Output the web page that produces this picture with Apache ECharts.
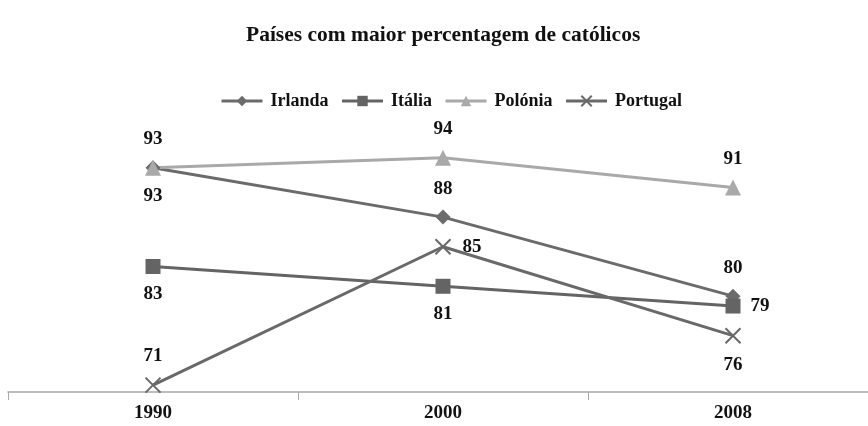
<!DOCTYPE html>
<html>
<head>
<meta charset="utf-8">
<script src="https://cdn.jsdelivr.net/npm/echarts@6/dist/echarts.min.js"></script>
<style>
  html, body { margin: 0; padding: 0; background: #fff; }
  #chart { width: 868px; height: 426px; }
</style>
</head>
<body>
<div id="chart"></div>
<script>
const years = ["1990", "2000", "2008"];
const irlanda = [93, 88, 80];
const italia = [83, 81, 79];
const polonia = [93, 94, 91];
const portugal = [71, 85, 76];

const FONT = "Liberation Serif";

// attach label position per point
function withLabels(values, positions, distances) {
  return values.map((v, i) => ({
    value: v,
    label: { position: positions[i], distance: distances[i] },
  }));
}

function lineSeries(name, data, color, symbol, size) {
  return {
    name: name,
    type: "line",
    data: data,
    symbol: symbol,
    symbolSize: size,
    showAllSymbol: true,
    lineStyle: { color: color, width: 3 },
    itemStyle: { color: color, borderColor: color, borderWidth: symbol.startsWith("path") ? 2 : 0 },
    label: {
      show: true,
      color: "#111",
      fontFamily: FONT,
      fontWeight: "bold",
      fontSize: 19,
    },
    emphasis: { disabled: true },
  };
}

const chart = echarts.init(document.getElementById("chart"));

const option = {
  animation: false,
  title: {
    text: "Países com maior percentagem de católicos",
    left: 241,
    top: 19,
    textStyle: { fontFamily: FONT, fontWeight: "bold", fontSize: 21.5, color: "#111" },
  },
  legend: {
    top: 87,
    left: 215,
    itemWidth: 41,
    itemHeight: 13,
    itemGap: 12,
    lineStyle: { width: 3 },
    textStyle: { fontFamily: FONT, fontWeight: "bold", fontSize: 18, color: "#111", padding: [0, 0, 0, 3] },
  },
  grid: { left: 8, right: -10, top: 143, bottom: 34, outerBoundsMode: "none" },
  xAxis: {
    type: "category",
    data: years,
    boundaryGap: true,
    axisLine: { lineStyle: { color: "#a8a8a8", width: 1.5 } },
    axisTick: { show: true, length: 8, lineStyle: { color: "#a8a8a8" } },
    axisLabel: { margin: 12, color: "#111", fontFamily: FONT, fontWeight: "bold", fontSize: 19 },
  },
  yAxis: {
    type: "value",
    show: false,
    min: 70.3,
    max: 95.5,
    splitLine: { show: false },
  },
  series: [
    lineSeries("Irlanda", withLabels(irlanda, ["bottom", "top", "top"], [11, 11, 11]), "#6b6b6b", "diamond", 15),
    lineSeries("Itália", withLabels(italia, ["bottom", "bottom", "right"], [11, 11, 10]), "#646464", "rect", 15),
    lineSeries("Polónia", withLabels(polonia, ["top", "top", "top"], [11, 11, 11]), "#a9a9a9", "triangle", 16),
    lineSeries("Portugal", withLabels(portugal, ["top", "right", "bottom"], [11, 11, 11]), "#696969",
      "path://M0,0L10,10M10,0L0,10", 15),
  ],
};

chart.setOption(option);
</script>
</body>
</html>
